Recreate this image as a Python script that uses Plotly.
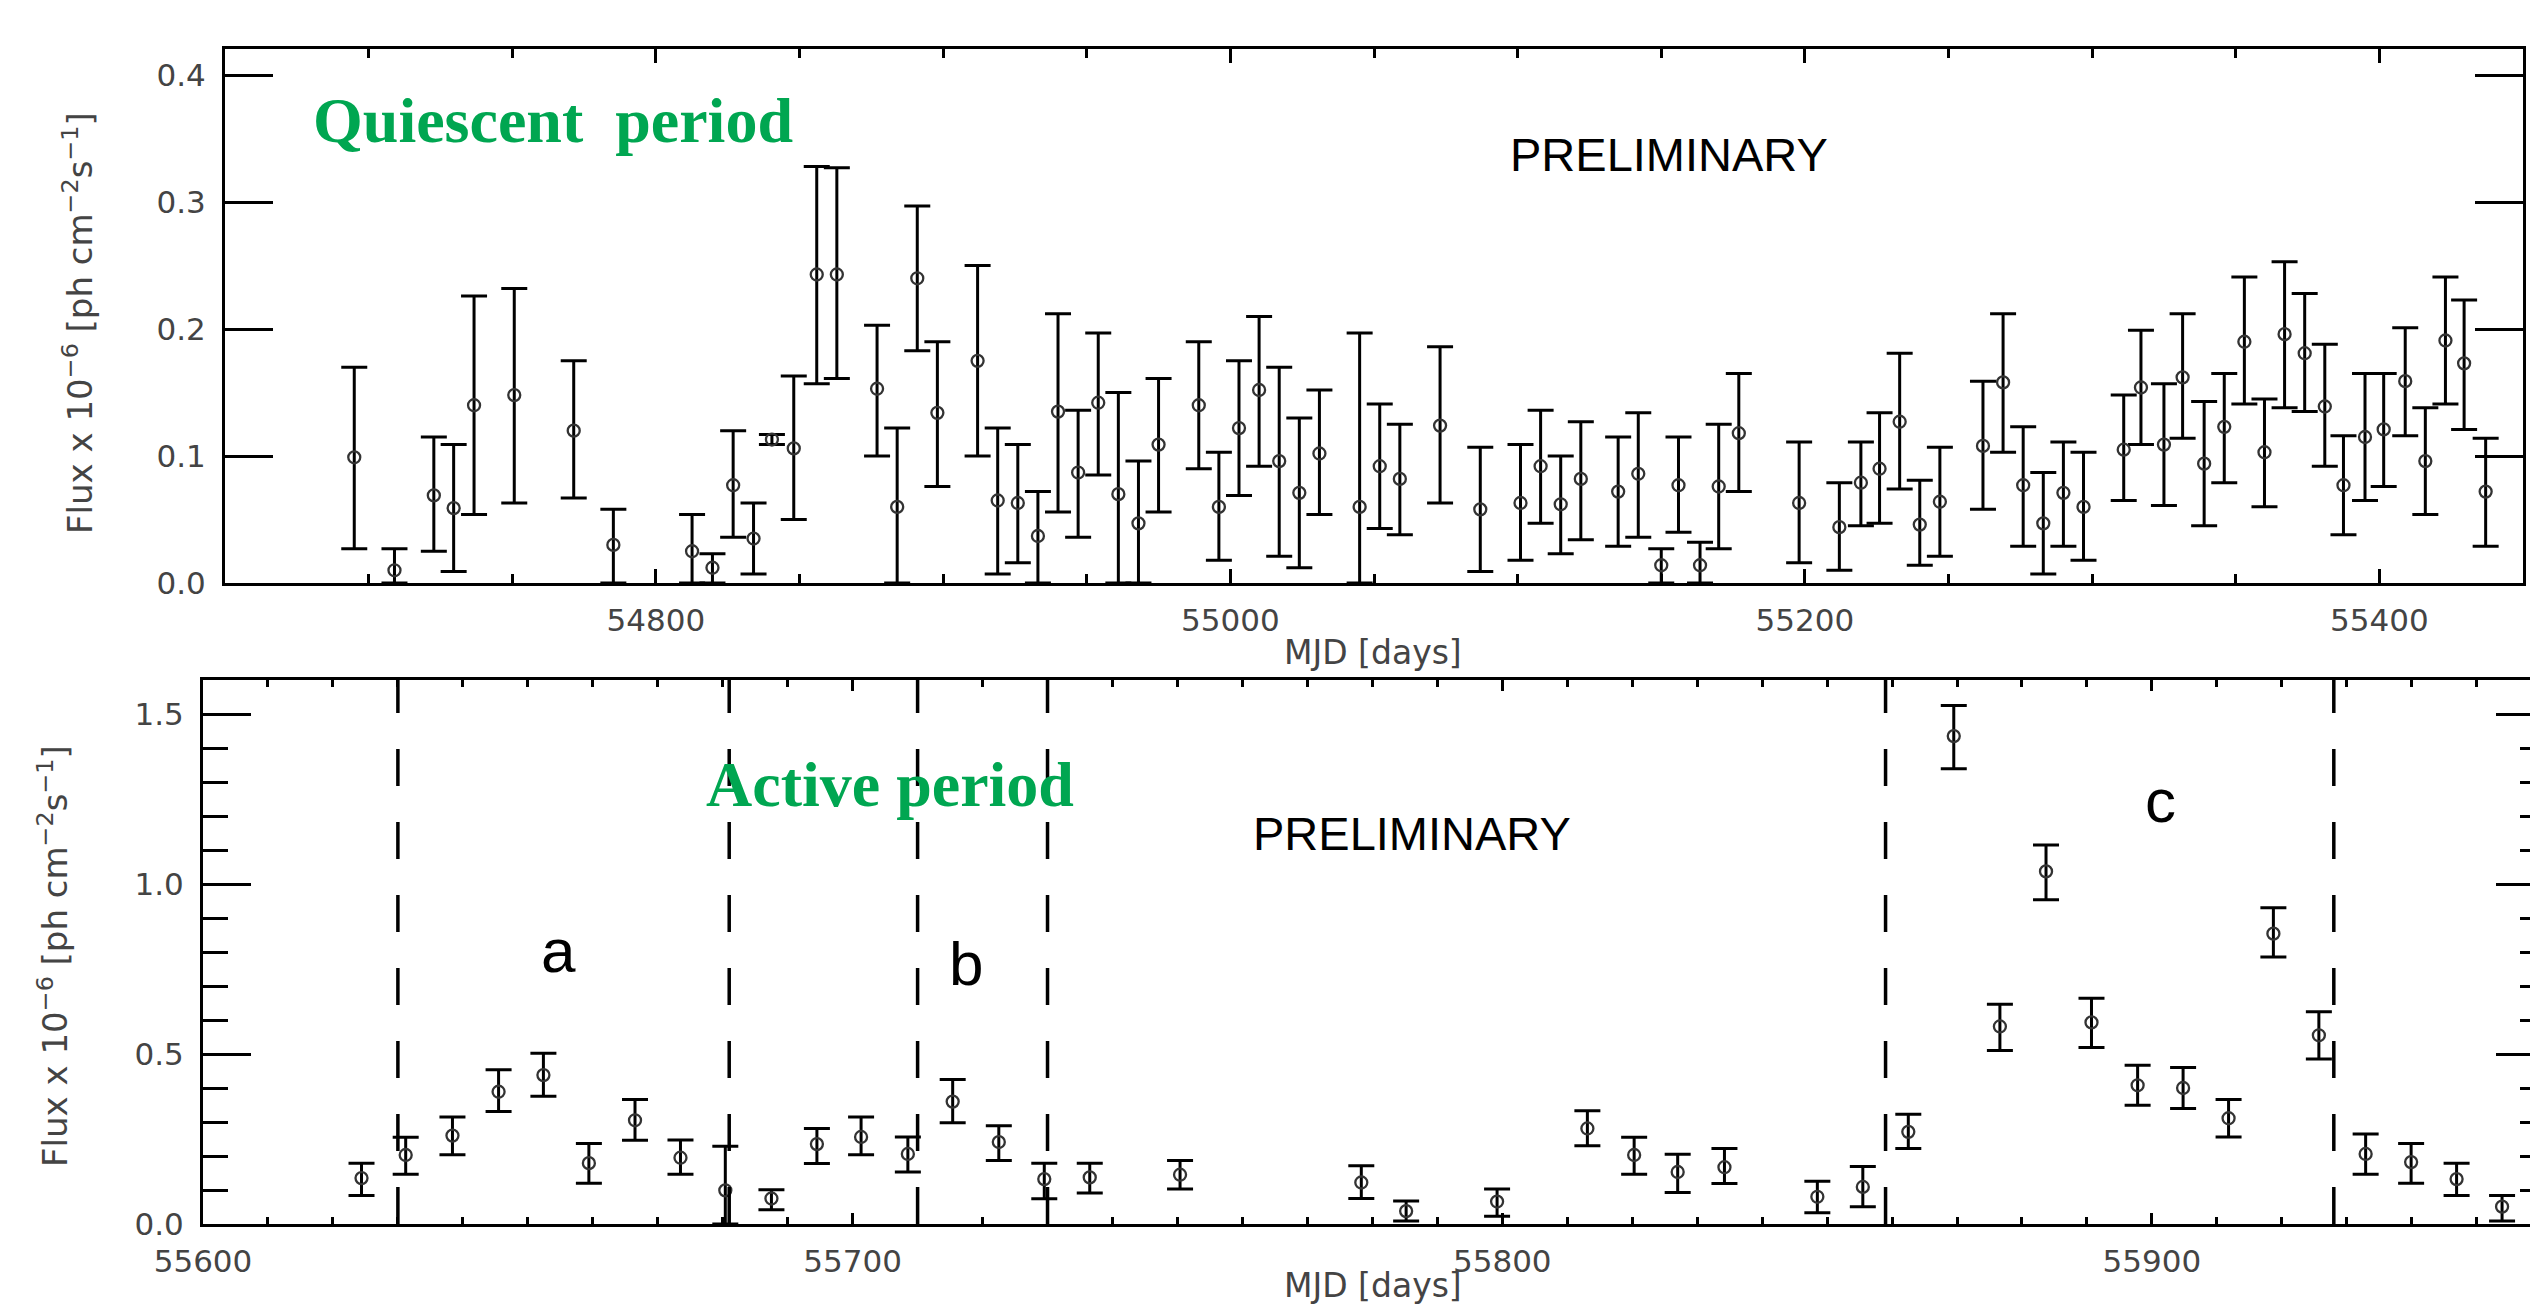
import plotly.graph_objects as go

# ---------------- Quiescent period (top panel) ----------------
q_mjd = [54695, 54709, 54722.7, 54729.6, 54736.7, 54750.7, 54771.4, 54785.2, 54812.6, 54819.7,
         54826.9, 54834.0, 54840.4, 54848, 54856, 54863, 54877, 54884, 54891, 54898,
         54912, 54919, 54926, 54933, 54940, 54947, 54954, 54961, 54968, 54975,
         54989, 54996, 55003, 55010, 55017, 55024, 55031, 55045, 55052, 55059,
         55073, 55087, 55101, 55108, 55115, 55122, 55135, 55142, 55150, 55156,
         55163.5, 55170, 55177, 55198, 55212, 55219.5, 55226, 55233, 55240, 55247,
         55262, 55269, 55276, 55283, 55290, 55297, 55311, 55317, 55325, 55331.5,
         55339, 55346, 55353, 55360, 55367, 55374, 55381, 55387.5, 55395, 55401.5,
         55409, 55416, 55423, 55429.5, 55437]
q_flux = [0.099, 0.010, 0.069, 0.059, 0.140, 0.148, 0.120, 0.030, 0.025, 0.012,
          0.077, 0.035, 0.113, 0.106, 0.243, 0.243, 0.153, 0.060, 0.240, 0.134,
          0.175, 0.065, 0.063, 0.037, 0.135, 0.087, 0.142, 0.070, 0.047, 0.109,
          0.140, 0.060, 0.122, 0.152, 0.096, 0.071, 0.102, 0.060, 0.092, 0.082,
          0.124, 0.058, 0.063, 0.092, 0.062, 0.082, 0.072, 0.086, 0.014, 0.077,
          0.014, 0.076, 0.118, 0.063, 0.044, 0.079, 0.090, 0.127, 0.046, 0.064,
          0.108, 0.158, 0.077, 0.047, 0.071, 0.060, 0.105, 0.154, 0.109, 0.162,
          0.094, 0.123, 0.190, 0.103, 0.196, 0.181, 0.139, 0.077, 0.115, 0.121,
          0.159, 0.096, 0.191, 0.173, 0.072]
q_hi = [0.170, 0.027, 0.115, 0.109, 0.226, 0.232, 0.175, 0.058, 0.054, 0.023,
        0.120, 0.063, 0.117, 0.163, 0.328, 0.327, 0.203, 0.122, 0.297, 0.190,
        0.250, 0.122, 0.109, 0.072, 0.212, 0.136, 0.197, 0.150, 0.096, 0.161,
        0.190, 0.103, 0.175, 0.210, 0.170, 0.130, 0.152, 0.197, 0.141, 0.125,
        0.186, 0.107, 0.109, 0.136, 0.100, 0.127, 0.115, 0.134, 0.027, 0.115,
        0.032, 0.125, 0.165, 0.111, 0.079, 0.111, 0.134, 0.181, 0.081, 0.107,
        0.159, 0.212, 0.123, 0.087, 0.111, 0.103, 0.148, 0.199, 0.157, 0.212,
        0.143, 0.165, 0.241, 0.145, 0.253, 0.228, 0.188, 0.116, 0.165, 0.165,
        0.201, 0.138, 0.241, 0.223, 0.114]
q_lo = [0.027, 0.000, 0.025, 0.009, 0.054, 0.063, 0.067, 0.000, 0.000, 0.000,
        0.036, 0.007, 0.109, 0.050, 0.157, 0.161, 0.100, 0.000, 0.183, 0.076,
        0.100, 0.007, 0.016, 0.000, 0.056, 0.036, 0.085, 0.000, 0.000, 0.056,
        0.090, 0.018, 0.069, 0.092, 0.021, 0.012, 0.054, 0.000, 0.043, 0.038,
        0.063, 0.009, 0.018, 0.047, 0.023, 0.034, 0.029, 0.036, 0.000, 0.040,
        0.000, 0.027, 0.072, 0.016, 0.010, 0.045, 0.047, 0.074, 0.014, 0.021,
        0.058, 0.103, 0.029, 0.007, 0.029, 0.018, 0.065, 0.109, 0.061, 0.114,
        0.045, 0.079, 0.141, 0.060, 0.138, 0.135, 0.092, 0.038, 0.065, 0.076,
        0.116, 0.054, 0.141, 0.121, 0.029]

# ---------------- Active period (bottom panel) ----------------
a_mjd = [55624.4, 55631.2, 55638.4, 55645.5, 55652.4, 55659.4, 55666.5, 55673.5, 55680.4, 55687.5,
         55694.5, 55701.3, 55708.5, 55715.4, 55722.5, 55729.5, 55736.5, 55750.4, 55778.3, 55785.2,
         55799.2, 55813.1, 55820.3, 55827.0, 55834.2, 55848.5, 55855.5, 55862.5, 55869.5, 55876.6,
         55883.7, 55890.7, 55897.8, 55904.8, 55911.8, 55918.7, 55925.7, 55932.9, 55939.9, 55946.9,
         55953.9]
a_flux = [0.135, 0.203, 0.260, 0.389, 0.438, 0.179, 0.305, 0.195, 0.099, 0.075,
          0.235, 0.256, 0.206, 0.360, 0.241, 0.132, 0.137, 0.145, 0.122, 0.038,
          0.066, 0.281, 0.203, 0.153, 0.167, 0.080, 0.109, 0.271, 1.435, 0.581,
          1.037, 0.593, 0.408, 0.400, 0.311, 0.854, 0.555, 0.206, 0.182, 0.132,
          0.051]
a_hi = [0.179, 0.255, 0.315, 0.454, 0.502, 0.237, 0.366, 0.247, 0.229, 0.101,
        0.281, 0.315, 0.256, 0.425, 0.289, 0.179, 0.179, 0.187, 0.171, 0.068,
        0.103, 0.333, 0.255, 0.205, 0.222, 0.126, 0.169, 0.323, 1.525, 0.646,
        1.115, 0.664, 0.467, 0.460, 0.366, 0.930, 0.624, 0.265, 0.237, 0.179,
        0.084]
a_lo = [0.084, 0.146, 0.204, 0.331, 0.376, 0.120, 0.246, 0.146, 0.000, 0.042,
        0.178, 0.204, 0.153, 0.298, 0.187, 0.074, 0.091, 0.103, 0.075, 0.009,
        0.023, 0.230, 0.146, 0.093, 0.119, 0.033, 0.051, 0.222, 1.339, 0.510,
        0.954, 0.519, 0.349, 0.340, 0.256, 0.785, 0.485, 0.146, 0.120, 0.084,
        0.009]

# boundaries of the flaring intervals a, b, c
period_edges = [55630, 55681, 55710, 55730, 55859, 55928]

W, H = 2530, 1308
TICKFONT = dict(family="DejaVu Sans", size=31, color="#444")
AXCOL = "#000"


def px_x(p):
    return p / W


def px_y(p):
    return 1 - p / H


def err_trace(x, y, hi, lo, xa, ya):
    return go.Scatter(
        x=x, y=y, xaxis=xa, yaxis=ya, mode="markers",
        marker=dict(symbol="circle-open", size=12, color="#333", line=dict(width=2.3, color="#333")),
        error_y=dict(type="data", symmetric=False,
                     array=[h - v for h, v in zip(hi, y)],
                     arrayminus=[v - l for v, l in zip(y, lo)],
                     color="#000", thickness=3, width=13),
        showlegend=False, hoverinfo="x+y",
    )


fig = go.Figure()
fig.add_trace(err_trace(q_mjd, q_flux, q_hi, q_lo, "x", "y"))
fig.add_trace(err_trace(a_mjd, a_flux, a_hi, a_lo, "x2", "y2"))
fig.add_trace(go.Scatter(x=[], y=[], xaxis="x2", yaxis="y3", showlegend=False))

common_x = dict(showline=True, linewidth=3, linecolor=AXCOL, mirror="ticks", ticks="inside",
                tickwidth=3, tickcolor=AXCOL, showgrid=False, zeroline=False,
                tickfont=TICKFONT, tickformat="d", automargin=False)
common_y = dict(showline=True, linewidth=3, linecolor=AXCOL, ticks="inside", tickwidth=3,
                tickcolor=AXCOL, showgrid=False, zeroline=False, tickfont=TICKFONT,
                tickformat=".1f", automargin=False)

fig.update_layout(
    width=W, height=H, margin=dict(l=0, r=0, t=0, b=0, pad=0, autoexpand=False),
    paper_bgcolor="white", plot_bgcolor="white",
    xaxis=dict(domain=[px_x(225), px_x(2523)], range=[54650, 55450], anchor="y",
               tick0=54800, dtick=200, ticklen=14, ticklabelstandoff=8,
               minor=dict(dtick=50, ticklen=9, ticks="inside", tickwidth=3, tickcolor=AXCOL, showgrid=False),
               **common_x),
    yaxis=dict(domain=[px_y(583), px_y(49)], range=[0, 0.4206], anchor="x",
               tick0=0, dtick=0.1, ticklen=48, mirror="ticks", ticklabelstandoff=10, **common_y),
    xaxis2=dict(domain=[px_x(203), 1.0], range=[55600, 55958.2], anchor="y2",
                tick0=55600, dtick=100, ticklen=11, ticklabelstandoff=8,
                minor=dict(dtick=10, ticklen=7, ticks="inside", tickwidth=3, tickcolor=AXCOL, showgrid=False),
                **common_x),
    yaxis2=dict(domain=[px_y(1224), px_y(680)], range=[0, 1.6], anchor="x2",
                tick0=0, dtick=0.5, ticklen=48, mirror=False, ticklabelstandoff=10,
                minor=dict(dtick=0.1, ticklen=25, ticks="inside", tickwidth=3, tickcolor=AXCOL, showgrid=False),
                **common_y),
    yaxis3=dict(overlaying="y2", side="right", anchor="x2", range=[0, 1.6], automargin=False,
                showline=False, showgrid=False, zeroline=False, showticklabels=False,
                ticks="inside", tick0=0, dtick=0.5, ticklen=34, tickwidth=3, tickcolor=AXCOL,
                minor=dict(dtick=0.1, ticklen=10, ticks="inside", tickwidth=3, tickcolor=AXCOL, showgrid=False)),
)

for xv in period_edges:
    fig.add_shape(type="line", xref="x2", yref="y2", x0=xv, x1=xv, y0=0, y1=1.6,
                  line=dict(color="#000", width=3.5, dash="37px,36px"))

ytitle = "Flux x 10<sup>−6</sup> [ph cm<sup>−2</sup>s<sup>−1</sup>]"
ann = [
    dict(text=ytitle, x=px_x(78), y=px_y(323), textangle=-90,
         font=dict(family="DejaVu Sans", size=34, color="#444")),
    dict(text=ytitle, x=px_x(53), y=px_y(956), textangle=-90,
         font=dict(family="DejaVu Sans", size=34, color="#444")),
    dict(text="MJD [days]", x=px_x(1373), y=px_y(652),
         font=dict(family="DejaVu Sans", size=33, color="#444")),
    dict(text="MJD [days]", x=px_x(1373), y=px_y(1285),
         font=dict(family="DejaVu Sans", size=33, color="#444")),
    dict(text="<b>Quiescent\u00a0 period</b>", x=px_x(553), y=px_y(120),
         font=dict(family="Liberation Serif", size=64, color="#00a651")),
    dict(text="<b>Active period</b>", x=px_x(890), y=px_y(784),
         font=dict(family="Liberation Serif", size=64, color="#00a651")),
    dict(text="PRELIMINARY", x=px_x(1669), y=px_y(154),
         font=dict(family="Liberation Sans", size=47, color="#000")),
    dict(text="PRELIMINARY", x=px_x(1412), y=px_y(834),
         font=dict(family="Liberation Sans", size=47, color="#000")),
    dict(text="a", x=px_x(558), y=px_y(950), font=dict(family="Liberation Sans", size=62, color="#000")),
    dict(text="b", x=px_x(966), y=px_y(963), font=dict(family="Liberation Sans", size=62, color="#000")),
    dict(text="c", x=px_x(2160), y=px_y(800), font=dict(family="Liberation Sans", size=62, color="#000")),
]
for a in ann:
    a.update(xref="paper", yref="paper", xanchor="center", yanchor="middle", showarrow=False)
fig.update_layout(annotations=ann)

fig.write_html("out.html", config={"displayModeBar": False},
               post_script="document.body.style.margin='0';document.body.style.overflow='hidden';")
